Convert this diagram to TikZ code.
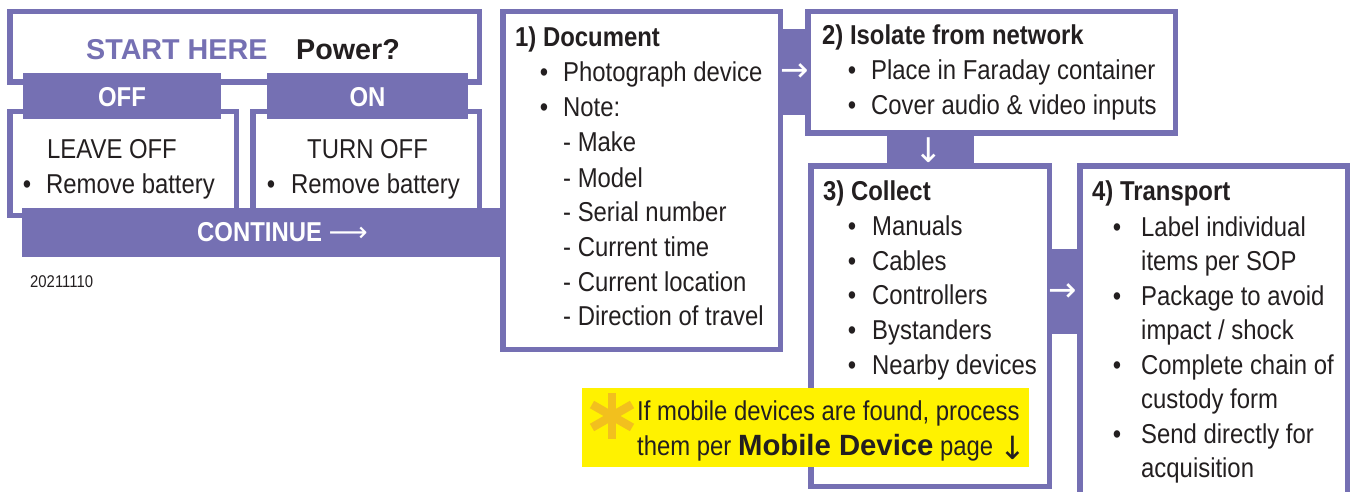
\documentclass[tikz,border=0pt]{standalone}
\usepackage{fontspec}
\setmainfont{Liberation Sans}
\newfontfamily\cond[FakeStretch=0.875]{Liberation Sans}
\newfontfamily\dejavu{DejaVu Sans}
\definecolor{pur}{RGB}{117,112,179}
\definecolor{ink}{RGB}{35,31,32}
\definecolor{hl}{RGB}{255,242,0}
\definecolor{starc}{RGB}{242,192,30}
\tikzset{
  box/.style={draw=pur, line width=5.5pt, fill=white, inner sep=0pt},
  band/.style={fill=pur, inner sep=0pt},
  txt/.style={anchor=base west, inner sep=0pt, text=ink, font=\cond\fontsize{27.3}{33}\selectfont},
  hd/.style={txt, font=\cond\bfseries\fontsize{27.3}{33}\selectfont},
  wtxt/.style={anchor=base, inner sep=0pt, text=white, font=\cond\bfseries\fontsize{27.3}{33}\selectfont},
  arr/.style={text=white, font=\dejavu\fontsize{34}{40}\selectfont, inner sep=0pt},
  bul/.style={txt, anchor=base},
}
\begin{document}
\begin{tikzpicture}[x=1pt,y=-1pt]
\path[use as bounding box, clip] (0,0) rectangle (1351,492);
% boxes
\node[box, minimum width=469.5, minimum height=70.5] (start) at (244.5,47) {};
\node[box, minimum width=226.5, minimum height=103.5] (leave) at (123,163.5) {};
\node[box, minimum width=226.5, minimum height=103.5] (turn) at (366,163.5) {};
\node[box, minimum width=277.5, minimum height=337.5] (doc) at (641.5,180.5) {};
\node[box, minimum width=367.5, minimum height=121.5] (iso) at (991.5,72.5) {};
\node[box, minimum width=238.5, minimum height=320.5] (col) at (930,326) {};
\node[box, minimum width=267.5, minimum height=351.5] (tra) at (1213.5,341.5) {};
% tabs and bands
\node[band, minimum width=198, minimum height=46] (off) at (122,96) {};
\node[band, minimum width=201, minimum height=46] (on) at (367.5,96) {};
\node[band, minimum width=483, minimum height=49] (cont) at (263.5,232.5) {};
\node[band, minimum width=30, minimum height=86] (c12) at (795,72) {};
\node[band, minimum width=87, minimum height=33] (c23) at (930.5,150.5) {};
\node[band, minimum width=35, minimum height=85] (c34) at (1064.5,291.5) {};
% arrows on connectors
\node[arr] (a12) at (795,73) {→};
\node[arr] (a23) at (929,150) {↓};
\node[arr] (a34) at (1063,293) {→};
% start
\node[txt, text=pur, font=\bfseries\fontsize{28.7}{33}\selectfont] (sh) at (86,60) {START HERE};
\node[txt, font=\bfseries\fontsize{28.7}{33}\selectfont] (pw) at (296,60) {Power?};
\node[wtxt] (offt) at (122,107) {OFF};
\node[wtxt] (ont) at (367.5,107) {ON};
\node[txt] (lo) at (47,158) {LEAVE OFF};
\node[bul] (lb) at (27,193) {•};
\node[txt] (lr) at (46,193) {Remove battery};
\node[txt] (to) at (307,158) {TURN OFF};
\node[bul] (tb) at (271,193) {•};
\node[txt] (tr) at (291,193) {Remove battery};
\node[txt, text=white, font=\cond\bfseries\fontsize{27.3}{33}\selectfont] (ct) at (197,241) {CONTINUE {\dejavu\mdseries ⟶}};
\node[txt, font=\cond\fontsize{17}{20}\selectfont] (date) at (30,287) {20211110};
% document
\node[hd] (dh) at (515,47) {1) Document};
\node[bul] (db1) at (544,82) {•};
\node[txt] (d1) at (563,82) {Photograph device};
\node[bul] (db2) at (544,117) {•};
\node[txt] (d2) at (563,117) {Note:};
\node[txt] (d3) at (563,151) {- Make};
\node[txt] (d4) at (563,187) {- Model};
\node[txt] (d5) at (563,221) {- Serial number};
\node[txt] (d6) at (563,256) {- Current time};
\node[txt] (d7) at (563,291) {- Current location};
\node[txt] (d8) at (563,325) {- Direction of travel};
% isolate
\node[hd] (ih) at (822,45) {2) Isolate from network};
\node[bul] (ib1) at (852,80) {•};
\node[txt] (i1) at (871,80) {Place in Faraday container};
\node[bul] (ib2) at (852,115) {•};
\node[txt] (i2) at (871,115) {Cover audio \& video inputs};
% collect
\node[hd] (ch) at (823,200) {3) Collect};
\node[bul] (cb1) at (852,235) {•};
\node[txt] (c1) at (872,235) {Manuals};
\node[bul] (cb2) at (852,270) {•};
\node[txt] (c2) at (872,270) {Cables};
\node[bul] (cb3) at (852,304) {•};
\node[txt] (c3) at (872,304) {Controllers};
\node[bul] (cb4) at (852,339) {•};
\node[txt] (c4) at (872,339) {Bystanders};
\node[bul] (cb5) at (852,374) {•};
\node[txt] (c5) at (872,374) {Nearby devices};
% transport
\node[hd] (th) at (1092,200) {4) Transport};
\node[bul] (tb1) at (1117,236) {•};
\node[txt] (t1) at (1141,236) {Label individual};
\node[txt] (t2) at (1141,270) {items per SOP};
\node[bul] (tb2) at (1117,305) {•};
\node[txt] (t3) at (1141,305) {Package to avoid};
\node[txt] (t4) at (1141,339) {impact / shock};
\node[bul] (tb3) at (1117,374) {•};
\node[txt] (t5) at (1141,374) {Complete chain of};
\node[txt] (t6) at (1141,408) {custody form};
\node[bul] (tb4) at (1117,443) {•};
\node[txt] (t7) at (1141,443) {Send directly for};
\node[txt] (t8) at (1141,477) {acquisition};
% note
\node[fill=hl, inner sep=0pt, minimum width=447, minimum height=79] (note) at (805.5,427.5) {};
\draw[starc, line width=8.5pt] (612,393) -- (612,439);
\draw[starc, line width=8.5pt] (592,404.5) -- (632,427.5);
\draw[starc, line width=8.5pt] (592,427.5) -- (632,404.5);
\node[txt] (n1) at (637,420) {If mobile devices are found, process};
\node[txt] (n2) at (637,455) {them per {\normalfont\bfseries\fontsize{29.3}{33}\selectfont Mobile Device} page};
\node[inner sep=0pt, text=ink, font=\dejavu\fontsize{32}{36}\selectfont] (pd) at (1013,448) {↓};
\end{tikzpicture}
\end{document}
